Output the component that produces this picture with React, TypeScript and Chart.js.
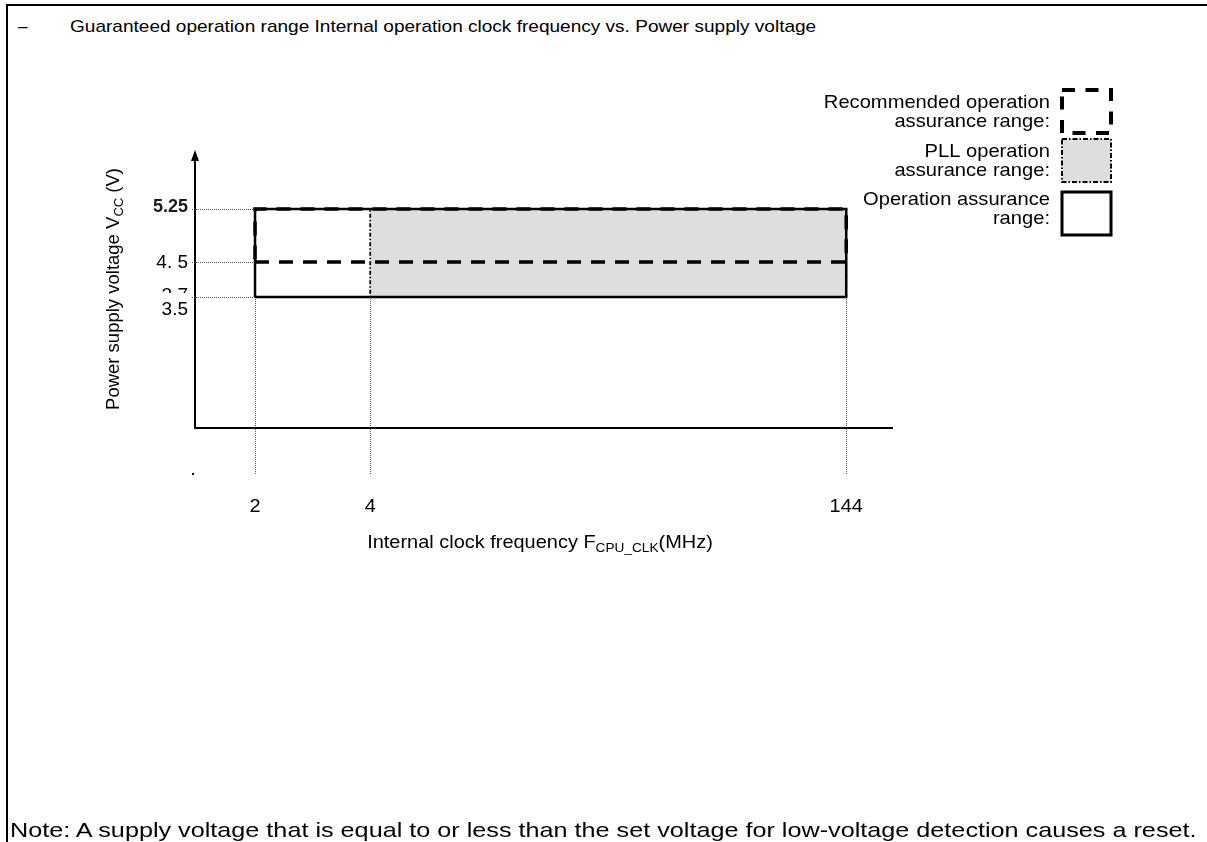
import { useEffect, useRef } from 'react'
import { Chart, ScatterController, LineElement, PointElement, LinearScale, Filler } from 'chart.js'

// tick values and labels
const freqTicks = [2, 4, 144]
const freqLabels = ['2', '4', '144']
const voltTicks = [5.25, 4.5, 3.5]
const voltLabels = ['5.25', '4. 5', '3.5']
const hiddenVoltLabel = '3.7'

// corners of the ranges: [min, max]
const opFreq = [2, 144]
const opVolt = [3.5, 5.25]
const pllFreq = [4, 144]
const pllVolt = [3.5, 5.25]
const recFreq = [2, 144]
const recVolt = [4.5, 5.25]

// the drawing is schematic, not to scale: value -> fraction of axis length
const axisBreaks: Record<string, number[][]> = {
  x: [[0, 0], [2, 0.086], [4, 0.251], [144, 0.933], [150, 1]],
  y: [[0, 0], [3.5, 0.471], [4.5, 0.597], [5.25, 0.788], [6, 1]],
}

class SchematicScale extends LinearScale {
  static id = 'schematic'
  static defaults = LinearScale.defaults
  frac(v: number) {
    const pts = axisBreaks[(this as any).axis]
    let i = 1
    while (i < pts.length - 1 && v > pts[i][0]) i++
    const [v0, f0] = pts[i - 1]
    const [v1, f1] = pts[i]
    return f0 + ((v - v0) / (v1 - v0)) * (f1 - f0)
  }
  getPixelForValue(v: number) {
    const f = this.frac(v)
    return this.isHorizontal() ? this.left + f * this.width : this.bottom - f * this.height
  }
}

Chart.register(ScatterController, LineElement, PointElement, LinearScale, Filler, SchematicScale as any)

const rect = (f: number[], v: number[]) => [
  { x: f[0], y: v[0] }, { x: f[1], y: v[0] }, { x: f[1], y: v[1] }, { x: f[0], y: v[1] }, { x: f[0], y: v[0] },
]

const SANS = '"Liberation Sans", Arial, sans-serif'

// text in the original is a little wider than the font, so stretch it sideways
function wideText(c: CanvasRenderingContext2D, t: string, x: number, y: number, sx = 1) {
  c.save()
  c.translate(x, y)
  c.scale(sx, 1)
  c.fillText(t, 0, 0)
  c.restore()
}

type Part = { t: string; sub?: boolean }
function richText(c: CanvasRenderingContext2D, parts: Part[], x: number, y: number, size: number, sx = 1) {
  const fnt = (p: Part) => `${p.sub ? Math.round(size * 0.68) : size}px ${SANS}`
  const widths = parts.map(p => { c.font = fnt(p); return c.measureText(p.t).width })
  c.save()
  c.translate(x, y)
  c.scale(sx, 1)
  let cx = -widths.reduce((a, b) => a + b, 0) / 2
  c.textAlign = 'left'
  c.textBaseline = 'middle'
  parts.forEach((p, i) => {
    c.font = fnt(p)
    c.fillText(p.t, cx, p.sub ? size * 0.28 : 0)
    cx += widths[i]
  })
  c.restore()
}

const diagramPlugin = {
  id: 'diagram',
  beforeDatasetsDraw(chart: Chart) {
    const { ctx: c, chartArea: a, scales } = chart
    const px = (v: number) => scales.x.getPixelForValue(v)
    const py = (v: number) => scales.y.getPixelForValue(v)
    c.save()
    c.strokeStyle = '#555'
    c.lineWidth = 1
    c.setLineDash([1, 1])
    voltTicks.forEach(v => {
      c.beginPath(); c.moveTo(px(0) - 3, Math.round(py(v)) + 0.5); c.lineTo(px(opFreq[0]), Math.round(py(v)) + 0.5); c.stroke()
    })
    freqTicks.forEach(f => {
      c.beginPath(); c.moveTo(Math.round(px(f)) + 0.5, py(opVolt[0])); c.lineTo(Math.round(px(f)) + 0.5, a.bottom + 47); c.stroke()
    })
    c.restore()
  },
  afterDatasetsDraw(chart: Chart) {
    const { ctx: c, chartArea: a, scales } = chart
    const px = (v: number) => scales.x.getPixelForValue(v)
    const py = (v: number) => scales.y.getPixelForValue(v)
    const x0 = px(0), y0 = py(0)
    c.save()
    c.fillStyle = '#000'
    c.strokeStyle = '#000'

    // axes
    c.lineWidth = 2
    c.beginPath(); c.moveTo(x0, y0); c.lineTo(x0, a.top + 8); c.stroke()
    c.beginPath(); c.moveTo(x0 - 1, y0); c.lineTo(a.right, y0); c.stroke()
    c.beginPath(); c.moveTo(x0, a.top); c.lineTo(x0 - 4, a.top + 11); c.lineTo(x0 + 4, a.top + 11); c.closePath(); c.fill()
    c.fillRect(x0 - 3, a.bottom + 45, 2, 2)

    // y tick labels (the "3.7" is mostly covered in the original)
    const yFonts = [`bold 18px ${SANS}`, `19px ${SANS}`, `19px ${SANS}`]
    const yShift = [-2, 1, 13]
    c.textAlign = 'right'
    c.textBaseline = 'middle'
    c.save()
    c.beginPath(); c.rect(x0 - 60, py(opVolt[0]) - 30, 58, 26); c.clip()
    c.font = `19px ${SANS}`
    c.fillText(hiddenVoltLabel, x0 - 7, py(opVolt[0]) - 1)
    c.restore()
    voltTicks.forEach((v, i) => {
      c.font = yFonts[i]
      c.fillStyle = i === 0 ? '#1a1a1a' : '#000'
      c.fillText(voltLabels[i], x0 - 7, py(v) + yShift[i])
    })
    c.fillStyle = '#000'

    // x tick labels
    c.textAlign = 'center'
    c.font = `19px ${SANS}`
    freqTicks.forEach((f, i) => wideText(c, freqLabels[i], px(f), a.bottom + 79, 1.05))

    // axis titles
    richText(c, [{ t: 'Internal clock frequency F' }, { t: 'CPU_CLK', sub: true }, { t: '(MHz)' }], (a.left + a.right) / 2 - 4, a.bottom + 115, 19, 1.05)
    c.save()
    c.translate(x0 - 81, y0 - 139)
    c.rotate(-Math.PI / 2)
    richText(c, [{ t: 'Power supply voltage V' }, { t: 'CC', sub: true }, { t: ' (V)' }], 0, 0, 18.5)
    c.restore()

    // legend
    const lx = 1050, bx = 1062, bw = 49, bh = 43
    const legend = [
      { lines: ['Recommended operation', 'assurance range:'], ty: 103, by: 90, kind: 'rec' },
      { lines: ['PLL operation', 'assurance range:'], ty: 152, by: 139, kind: 'pll' },
      { lines: ['Operation assurance', 'range:'], ty: 200, by: 192, kind: 'op' },
    ]
    c.font = `19px ${SANS}`
    c.textAlign = 'right'
    legend.forEach(l => {
      l.lines.forEach((t, j) => wideText(c, t, lx, l.ty + j * 19, 1.06))
      c.save()
      if (l.kind === 'rec') {
        c.lineWidth = 4; c.setLineDash([13, 10.5])
        c.beginPath()
        c.moveTo(bx, l.by); c.lineTo(bx + bw, l.by); c.lineTo(bx + bw, l.by + bh); c.lineTo(bx, l.by + bh); c.closePath()
        c.stroke()
      } else if (l.kind === 'pll') {
        c.fillStyle = '#dedede'; c.fillRect(bx, l.by, bw, bh)
        c.lineWidth = 2; c.setLineDash([5, 2, 1.5, 2])
        c.strokeRect(bx, l.by, bw, bh)
      } else {
        c.lineWidth = 3
        c.strokeRect(bx, l.by, bw, bh)
      }
      c.restore()
    })
    c.restore()
  },
}

export default function App() {
  const canvasRef = useRef<HTMLCanvasElement>(null)

  useEffect(() => {
    if (!canvasRef.current) return
    const common = { showLine: true, pointRadius: 0, tension: 0, clip: false as const, borderColor: '#000', borderJoinStyle: 'miter' as const }
    const chart = new Chart(canvasRef.current, {
      type: 'scatter',
      data: {
        datasets: [
          { ...common, label: 'Recommended operation assurance range', data: rect(recFreq, recVolt), borderWidth: 3.5, borderDash: [14, 10], fill: false },
          { ...common, label: 'Operation assurance range', data: rect(opFreq, opVolt), borderWidth: 2.5, fill: false },
          { ...common, label: 'PLL operation assurance range', data: rect(pllFreq, pllVolt), borderWidth: 1.8, borderDash: [4, 2, 1.5, 2], fill: false },
          { ...common, label: 'PLL fill', data: [{ x: pllFreq[0], y: pllVolt[1] }, { x: pllFreq[1], y: pllVolt[1] }], borderWidth: 0, backgroundColor: '#dedede', fill: { value: pllVolt[0] } },
        ],
      },
      options: {
        responsive: false,
        animation: false,
        devicePixelRatio: 1,
        events: [],
        layout: { padding: { left: 195, right: 314, top: 150, bottom: 414 } },
        plugins: { legend: { display: false }, tooltip: { enabled: false } },
        scales: {
          x: { type: 'schematic' as any, min: 0, max: 150, display: false },
          y: { type: 'schematic' as any, min: 0, max: 6, display: false },
        },
      },
      plugins: [diagramPlugin as any],
    })
    return () => chart.destroy()
  }, [])

  return (
    <div style={{ position: 'fixed', inset: 0, background: '#fff', overflow: 'hidden', fontFamily: SANS, color: '#000' }}>
      <div style={{ position: 'absolute', left: 6, top: 4, right: -10, bottom: -10, borderLeft: '2px solid #000', borderTop: '2px solid #000' }} />
      <div style={{ position: 'absolute', left: 18, top: 17, fontSize: 17, lineHeight: '20px' }}>–</div>
      <div style={{ position: 'absolute', left: 70, top: 17, fontSize: 17, lineHeight: '20px', whiteSpace: 'nowrap', transform: 'scaleX(1.12)', transformOrigin: 'left center' }}>
        Guaranteed operation range Internal operation clock frequency vs. Power supply voltage
      </div>
      <canvas ref={canvasRef} width={1207} height={842} style={{ position: 'absolute', left: 0, top: 0, width: 1207, height: 842 }} />
      <div style={{ position: 'absolute', left: 10, top: 818, fontSize: 21, lineHeight: '24px', whiteSpace: 'nowrap', transform: 'scaleX(1.2)', transformOrigin: 'left center' }}>
        Note: A supply voltage that is equal to or less than the set voltage for low-voltage detection causes a reset.
      </div>
    </div>
  )
}
